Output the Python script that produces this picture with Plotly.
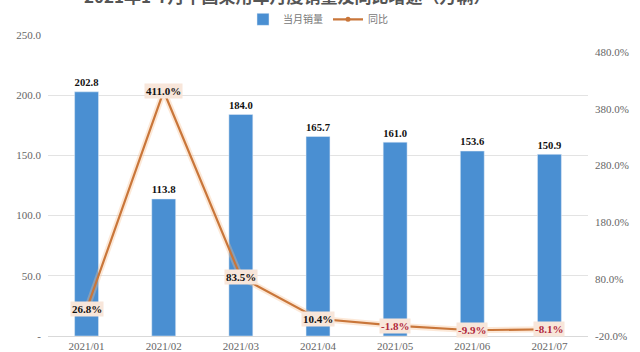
import plotly.graph_objects as go

months = ["2021/01", "2021/02", "2021/03", "2021/04", "2021/05", "2021/06", "2021/07"]
sales = [202.8, 113.8, 184.0, 165.7, 161.0, 153.6, 150.9]
yoy = [26.8, 411.0, 83.5, 10.4, -1.8, -9.9, -8.1]

left_ticks = [0, 50, 100, 150, 200, 250]
left_labels = ["-", "50.0", "100.0", "150.0", "200.0", "250.0"]
right_ticks = [-20, 80, 180, 280, 380, 480]
right_labels = ["-20.0%", "80.0%", "180.0%", "280.0%", "380.0%", "480.0%"]

title_text = "2021年1-7月中国乘用车月度销量及同比增速（万辆）"

BAR = "#4a8fd2"
LINE = "#c9763a"
serif = "Liberation Serif"

fig = go.Figure()
fig.add_trace(go.Bar(
    x=months, y=sales, name="当月销量", marker_color=BAR, width=0.31,
    text=[f"{v:.1f}" for v in sales], textposition="outside",
    textfont=dict(family=serif, size=12, color="#111"),
    texttemplate="<b>%{text}</b>", cliponaxis=False,
))
fig.add_trace(go.Scatter(
    x=months, y=yoy, yaxis="y2", mode="lines", showlegend=False,
    line=dict(color="rgba(245,190,140,0.35)", width=6), hoverinfo="skip",
))
fig.add_trace(go.Scatter(
    x=months, y=yoy, yaxis="y2", name="同比", mode="lines+markers",
    line=dict(color=LINE, width=2.2), marker=dict(size=5, color=LINE),
))

for m, v in zip(months, yoy):
    fig.add_annotation(
        x=m, y=v, xref="x", yref="y2", text=f"<b>{v:.1f}%</b>", showarrow=False,
        font=dict(family=serif, size=11, color="#b0283a" if v < 0 else "#111"),
        bgcolor="#f8e6da", borderpad=1,
    )

fig.add_annotation(
    x=0.443, y=1.13, xref="paper", yref="paper", yanchor="middle",
    text=f"<b>{title_text}</b>",
    showarrow=False, font=dict(family="Noto Sans CJK SC", size=17, color="#555"),
)

fig.update_layout(
    width=640, height=352,
    margin=dict(l=48, r=52, t=35, b=16, autoexpand=False),
    paper_bgcolor="white", plot_bgcolor="white",
    bargap=0.69,
    legend=dict(orientation="h", x=0.5, xanchor="center", y=1.052, yanchor="middle",
                font=dict(family="Noto Sans CJK SC", size=10, color="#777"),
                itemwidth=30, tracegroupgap=0),
    xaxis=dict(tickfont=dict(family=serif, size=11, color="#666"), showgrid=False,
               showline=True, linecolor="#d9d9d9", ticks="", automargin=False),
    yaxis=dict(range=[0, 250], tickvals=left_ticks, ticktext=left_labels,
               tickfont=dict(family=serif, size=11, color="#666"), automargin=False,
               showgrid=True, gridcolor="#e3e3e3", zeroline=False, ticklabelstandoff=6),
    yaxis2=dict(range=[-20, 510], tickvals=right_ticks, ticktext=right_labels,
                overlaying="y", side="right", showgrid=False, zeroline=False, automargin=False,
                tickfont=dict(family=serif, size=11, color="#666"), ticklabelstandoff=6),
    showlegend=True,
)

fig.write_html("out.html")
